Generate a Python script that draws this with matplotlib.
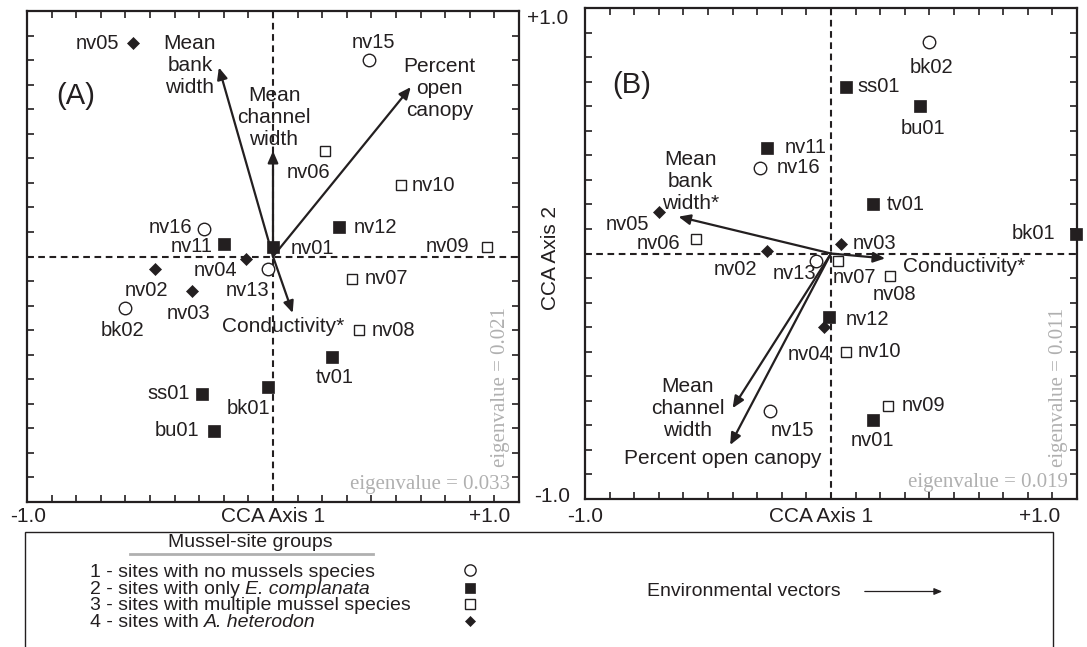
import matplotlib
matplotlib.use("Agg")
import matplotlib.pyplot as plt
from matplotlib.patches import Rectangle, FancyArrowPatch
from matplotlib.lines import Line2D

plt.rcParams['font.family'] = ['Liberation Sans', 'DejaVu Sans']

# ---------------- data ----------------
sites = ['nv01', 'nv02', 'nv03', 'nv04', 'nv05', 'nv06', 'nv07', 'nv08', 'nv09', 'nv10',
         'nv11', 'nv12', 'nv13', 'nv15', 'nv16', 'bk01', 'bk02', 'bu01', 'ss01', 'tv01']
groups = [2, 4, 4, 4, 4, 3, 3, 3, 3, 3,
          2, 2, 1, 1, 1, 2, 1, 2, 2, 2]

a_axis1 = [0.00, -0.48, -0.33, -0.11, -0.57, 0.21, 0.32, 0.35, 0.87, 0.52,
           -0.20, 0.27, -0.02, 0.39, -0.28, -0.02, -0.60, -0.24, -0.29, 0.24]
a_axis2 = [0.04, -0.05, -0.14, -0.01, 0.87, 0.43, -0.09, -0.30, 0.04, 0.29,
           0.05, 0.12, -0.05, 0.80, 0.11, -0.53, -0.21, -0.71, -0.56, -0.41]

b_axis1 = [0.17, -0.26, 0.04, -0.03, -0.70, -0.55, 0.03, 0.24, 0.23, 0.06,
           -0.26, -0.01, -0.06, -0.25, -0.29, 0.995, 0.40, 0.36, 0.06, 0.17]
b_axis2 = [-0.68, 0.01, 0.04, -0.30, 0.17, 0.06, -0.03, -0.09, -0.62, -0.40,
           0.43, -0.26, -0.03, -0.64, 0.35, 0.08, 0.86, 0.60, 0.68, 0.20]

a_vec_names = ["Mean\nbank\nwidth", "Mean\nchannel\nwidth", "Percent\nopen\ncanopy", "Conductivity*"]
a_vec1 = [-0.22, 0.00, 0.56, 0.08]
a_vec2 = [0.77, 0.43, 0.69, -0.23]

b_vec_names = ["Mean\nbank\nwidth*", "Mean\nchannel\nwidth", "Percent open canopy", "Conductivity*"]
b_vec1 = [-0.62, -0.40, -0.41, 0.22]
b_vec2 = [0.15, -0.63, -0.78, -0.02]

eigen_a = [0.033, 0.021]
eigen_b = [0.019, 0.011]

group_plain = ["1 - sites with no mussels species",
               "2 - sites with only",
               "3 - sites with multiple mussel species",
               "4 - sites with"]
group_italic = ["", "E. complanata", "", "A. heterodon"]

# ---------------- styles / layout ----------------
W, H = 1087, 647
DARK = '#231f20'
GREY = '#b0b0b0'
styles = {
    1: dict(marker='o', ms=9, mfc='white', mec=DARK, mew=1.0),
    2: dict(marker='s', ms=8.5, mfc=DARK, mec=DARK, mew=0.5),
    3: dict(marker='s', ms=7.5, mfc='white', mec=DARK, mew=1.0),
    4: dict(marker='D', ms=6, mfc=DARK, mec=DARK, mew=0.5),
}

# label placement: (ha, dx px, dy px downward)
lab_a = {
    'nv05': ('right', -14, 1), 'nv15': ('center', 4, -18), 'nv06': ('center', -16, 22),
    'nv10': ('left', 11, 0), 'nv12': ('left', 14, 0), 'nv09': ('right', -18, 0),
    'nv01': ('left', 18, 2), 'nv16': ('right', -12, -2), 'nv11': ('right', -11, 2),
    'nv04': ('right', -9, 12), 'nv02': ('center', -8, 22), 'nv13': ('right', 1, 22),
    'nv03': ('center', -3, 23), 'bk02': ('center', -3, 22), 'ss01': ('right', -12, 0),
    'bk01': ('center', -20, 22), 'bu01': ('right', -15, 0), 'nv07': ('left', 13, 0),
    'nv08': ('left', 13, 0), 'tv01': ('center', 3, 20),
}
lab_b = {
    'bk02': ('center', 2, 25), 'ss01': ('left', 12, 0), 'bu01': ('center', 3, 22),
    'tv01': ('left', 14, 0), 'bk01': ('right', -20, 0), 'nv03': ('left', 12, 0),
    'nv11': ('left', 18, 0), 'nv16': ('left', 17, 0), 'nv05': ('right', -10, 13),
    'nv06': ('right', -15, 5), 'nv02': ('right', -10, 18), 'nv13': ('right', 0, 13),
    'nv07': ('left', -6, 17), 'nv08': ('center', 4, 19), 'nv12': ('left', 17, 2),
    'nv04': ('right', 8, 27), 'nv10': ('left', 12, 0), 'nv09': ('left', 14, 0),
    'nv01': ('center', 0, 20), 'nv15': ('left', 1, 20),
}
# vector label offsets from arrow tip: (ha, dx, dy)
vlab_a = [('center', -29, -2), ('center', 1, -33), ('center', 29, 1), ('center', -10, 14)]
vlab_b = [('center', 12, -35), ('center', -45, 0), ('center', -7, 14), ('left', 18, 8)]

fig = plt.figure(figsize=(W / 100, H / 100), dpi=100)


def fx(px):
    return px / W


def fy(py):
    return 1 - py / H


def ftext(px, py, s, **kw):
    kw.setdefault('color', DARK)
    return fig.text(fx(px), fy(py), s, **kw)


def make_panel(rect_px, a1, a2, vnames, v1, v2, labs, vlabs):
    x0, y0, x1, y1 = rect_px
    ax = fig.add_axes([fx(x0), fy(y1), (x1 - x0) / W, (y1 - y0) / H])
    ax.set_xlim(-1, 1)
    ax.set_ylim(-1, 1)
    ticks = [i / 10 for i in range(-10, 11)]
    ax.set_xticks(ticks)
    ax.set_yticks(ticks)
    ax.tick_params(direction='in', length=5, width=1.2, color=DARK,
                   top=True, right=True, labelbottom=False, labelleft=False)
    for sp in ax.spines.values():
        sp.set_linewidth(1.6)
        sp.set_color(DARK)
    ax.axhline(0, color=DARK, lw=1.5, ls=(0, (3.2, 2.2)), zorder=1)
    ax.axvline(0, color=DARK, lw=1.5, ls=(0, (3.2, 2.2)), zorder=1)
    for name, vx, vy, (ha, dx, dy) in zip(vnames, v1, v2, vlabs):
        ax.annotate('', xy=(vx, vy), xytext=(0, 0),
                    arrowprops=dict(arrowstyle='-|>,head_length=0.5,head_width=0.22',
                                    color=DARK, lw=1.6, shrinkA=0, shrinkB=0,
                                    mutation_scale=14), zorder=2)
        ax.annotate(name, xy=(vx, vy), xytext=(dx, -dy), textcoords='offset pixels',
                    ha=ha, va='center', fontsize=15, color=DARK, zorder=4)
    for s, g, x, y in zip(sites, groups, a1, a2):
        ax.plot([x], [y], ls='none', zorder=3, clip_on=False, **styles[g])
        ha, dx, dy = labs[s]
        ax.annotate(s, xy=(x, y), xytext=(dx, -dy), textcoords='offset pixels',
                    ha=ha, va='center', fontsize=14.5, color=DARK, zorder=4)
    return ax


axA = make_panel((27, 11, 519, 502), a_axis1, a_axis2, a_vec_names, a_vec1, a_vec2, lab_a, vlab_a)
axB = make_panel((585, 8, 1077, 499), b_axis1, b_axis2, b_vec_names, b_vec1, b_vec2, lab_b, vlab_b)

# panel letters
ftext(76, 96, "(A)", fontsize=21, ha='center', va='center')
ftext(632, 85, "(B)", fontsize=21, ha='center', va='center')

# axis texts
ftext(28, 517, "-1.0", fontsize=15, ha='center', va='center')
ftext(490, 517, "+1.0", fontsize=15, ha='center', va='center')
ftext(273, 517, "CCA Axis 1", fontsize=15, ha='center', va='center')
ftext(585, 517, "-1.0", fontsize=15, ha='center', va='center')
ftext(1040, 517, "+1.0", fontsize=15, ha='center', va='center')
ftext(821, 517, "CCA Axis 1", fontsize=15, ha='center', va='center')
ftext(548, 19, "+1.0", fontsize=15, ha='center', va='center')
ftext(552, 496, "-1.0", fontsize=15, ha='center', va='center')
ftext(550, 258, "CCA Axis 2", fontsize=15, ha='center', va='center', rotation=90)

# eigenvalues
ser = ['Liberation Serif', 'DejaVu Serif']
ftext(510, 484, f"eigenvalue = {eigen_a[0]:.3f}", fontsize=15, family=ser, color=GREY,
      ha='right', va='center')
ftext(500, 467, f"eigenvalue = {eigen_a[1]:.3f}", fontsize=15, family=ser, color=GREY,
      ha='center', va='bottom', rotation=90)
ftext(1068, 483, f"eigenvalue = {eigen_b[0]:.3f}", fontsize=15, family=ser, color=GREY,
      ha='right', va='center')
ftext(1058, 467, f"eigenvalue = {eigen_b[1]:.3f}", fontsize=15, family=ser, color=GREY,
      ha='center', va='bottom', rotation=90)

# legend box
fig.add_artist(Rectangle((fx(25), fy(700)), (1053 - 25) / W, (700 - 532) / H,
                         transform=fig.transFigure, fill=False, ec=DARK, lw=1.0,
                         clip_on=False))
ftext(250, 547, "Mussel-site groups", fontsize=14, ha='center', va='baseline')
fig.add_artist(Line2D([fx(130), fx(373)], [fy(553.5), fy(553.5)], transform=fig.transFigure,
                      color=GREY, lw=2))
base_y = [577, 594, 610.5, 627]
sym_y = [570, 587.5, 604, 620.5]
renderer = fig.canvas.get_renderer()
LEG_FS = 14
space_px = 0.278 * LEG_FS * 100 / 72
for plain, ital, g, by, sy in zip(group_plain, group_italic, [1, 2, 3, 4], base_y, sym_y):
    t = ftext(90, by, plain, fontsize=LEG_FS, ha='left', va='baseline')
    if ital:
        bb = t.get_window_extent(renderer=renderer)
        fig.text((bb.x1 + space_px) / W, fy(by), ital, fontsize=LEG_FS, style='italic',
                 ha='left', va='baseline', color=DARK)
    st = dict(styles[g])
    st['ms'] = st['ms'] * 0.9
    fig.add_artist(Line2D([fx(470)], [fy(sy)], transform=fig.transFigure, ls='none', **st))

ftext(647, 592, "Environmental vectors", fontsize=14, ha='left', va='center')
fig.add_artist(FancyArrowPatch((fx(862), fy(591.5)), (fx(945), fy(591.5)),
                               transform=fig.transFigure,
                               arrowstyle='-|>,head_length=0.6,head_width=0.25',
                               mutation_scale=8, lw=0.9, color=DARK))

fig.savefig("out.png", dpi=100)
